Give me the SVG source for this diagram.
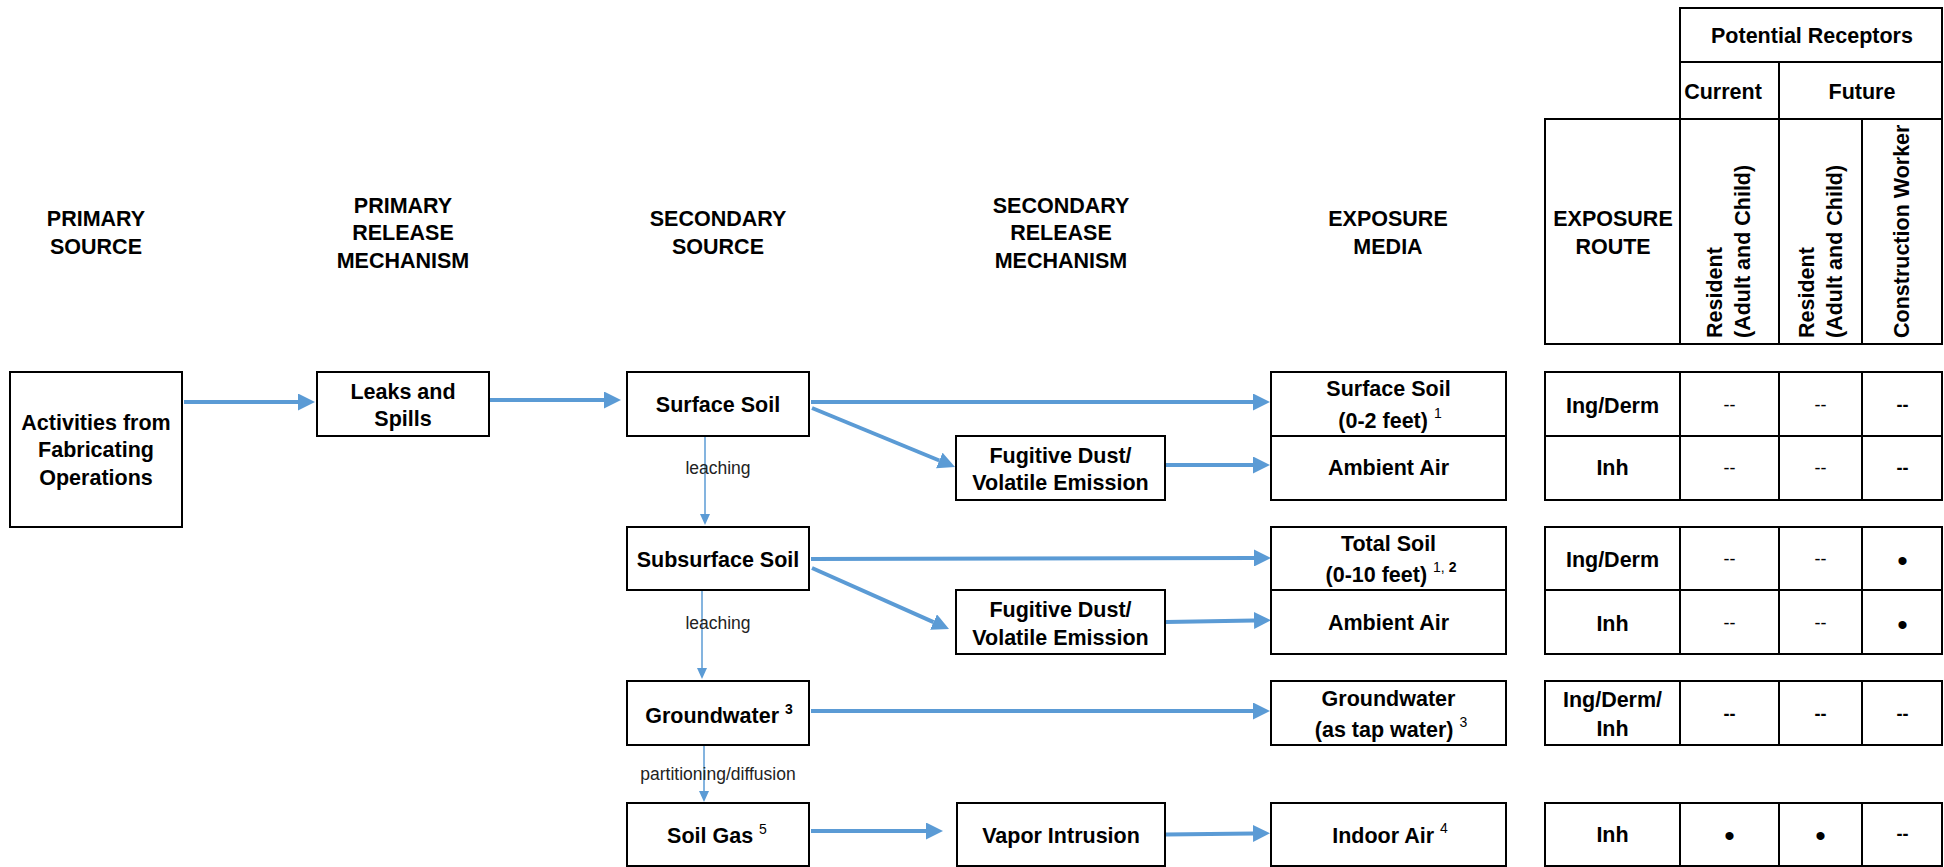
<svg xmlns="http://www.w3.org/2000/svg" width="1944" height="867" viewBox="0 0 1944 867">
<style>
.box{fill:#fff;stroke:#000;stroke-width:2}
.t{font-family:"Liberation Sans",Arial,sans-serif;font-weight:bold;font-size:21.5px;text-anchor:middle;fill:#000}
.s{font-family:"Liberation Sans",Arial,sans-serif;font-weight:normal;font-size:17.5px;text-anchor:middle;fill:#222}
.sup{font-size:14px;font-weight:normal}
.supb{font-size:14px;font-weight:bold}
.d{font-family:"Liberation Sans",Arial,sans-serif;font-weight:normal;font-size:18px;text-anchor:middle;fill:#000}
.db{font-weight:bold}
.b{font-family:"Liberation Sans",Arial,sans-serif;font-size:30px;text-anchor:middle;fill:#000}
.arr{stroke:#5B9BD5;stroke-width:4;fill:none;marker-end:url(#ah)}
.thin{stroke:#5B9BD5;stroke-width:1.5;fill:none;marker-end:url(#ahs)}
</style>
<defs>
<marker id="ah" markerUnits="userSpaceOnUse" viewBox="0 0 17 17" markerWidth="17" markerHeight="17" refX="0" refY="8.5" orient="auto"><path d="M0,0 L17,8.5 L0,17 z" fill="#5B9BD5"/></marker>
<marker id="ahs" markerUnits="userSpaceOnUse" viewBox="0 0 11 10" markerWidth="11" markerHeight="10" refX="0" refY="5" orient="auto"><path d="M0,0 L11,5 L0,10 z" fill="#5B9BD5"/></marker>
</defs>
<rect width="1944" height="867" fill="#fff"/>

<g id="headers">
<text class="t" x="96" y="226">PRIMARY</text><text class="t" x="96" y="254">SOURCE</text>
<text class="t" x="403" y="213">PRIMARY</text><text class="t" x="403" y="240">RELEASE</text><text class="t" x="403" y="268">MECHANISM</text>
<text class="t" x="718" y="226">SECONDARY</text><text class="t" x="718" y="254">SOURCE</text>
<text class="t" x="1061" y="213">SECONDARY</text><text class="t" x="1061" y="240">RELEASE</text><text class="t" x="1061" y="268">MECHANISM</text>
<text class="t" x="1388" y="226">EXPOSURE</text><text class="t" x="1388" y="254">MEDIA</text>
</g>

<g id="receptor-header">
<rect class="box" x="1680" y="8" width="262" height="54"/>
<text class="t" x="1812" y="43">Potential Receptors</text>
<rect class="box" x="1680" y="62" width="99" height="57"/>
<text class="t" x="1723" y="99">Current</text>
<rect class="box" x="1779" y="62" width="163" height="57"/>
<text class="t" x="1862" y="99">Future</text>
<rect class="box" x="1545" y="119" width="135" height="225"/>
<text class="t" x="1613" y="226">EXPOSURE</text><text class="t" x="1613" y="254">ROUTE</text>
<rect class="box" x="1680" y="119" width="99" height="225"/>
<rect class="box" x="1779" y="119" width="83" height="225"/>
<rect class="box" x="1862" y="119" width="80" height="225"/>
<text class="t" style="text-anchor:start" transform="translate(1722,338) rotate(-90)"><tspan x="0" y="0">Resident</tspan><tspan x="0" y="28">(Adult and Child)</tspan></text>
<text class="t" style="text-anchor:start" transform="translate(1814,338) rotate(-90)"><tspan x="0" y="0">Resident</tspan><tspan x="0" y="28">(Adult and Child)</tspan></text>
<text class="t" style="text-anchor:start" transform="translate(1909,338) rotate(-90)">Construction Worker</text>
</g>

<g id="connectors">
<path class="arr" d="M184,402 L298,402"/>
<path class="arr" d="M489,400 L604,400"/>
<path class="arr" d="M811,402 L1253,402"/>
<path class="arr" d="M812,408 L939.3,460.5"/>
<path class="arr" d="M1166,465 L1253,465"/>
<path class="arr" d="M811,559 L1254,558"/>
<path class="arr" d="M812,568 L933.5,622.1"/>
<path class="arr" d="M1166,622 L1254,620.5"/>
<path class="arr" d="M811,711 L1253,711"/>
<path class="arr" d="M811,831 L926,831"/>
<path class="arr" d="M1166,834.5 L1253,833.5"/>
<path class="thin" d="M705,437 L705,514"/>
<path class="thin" d="M702,591 L702,668"/>
<path class="thin" d="M704,746 L704,791"/>
<text class="s" x="718" y="474">leaching</text>
<text class="s" x="718" y="629">leaching</text>
<text class="s" x="718" y="780">partitioning/diffusion</text>
</g>

<g id="activities">
<rect class="box" x="10" y="372" width="172" height="155"/>
<text class="t" x="96" y="430">Activities from</text><text class="t" x="96" y="457">Fabricating</text><text class="t" x="96" y="485">Operations</text>
</g>
<g id="leaks">
<rect class="box" x="317" y="372" width="172" height="64"/>
<text class="t" x="403" y="399">Leaks and</text><text class="t" x="403" y="426">Spills</text>
</g>
<g id="surface-soil">
<rect class="box" x="627" y="372" width="182" height="64"/>
<text class="t" x="718" y="412">Surface Soil</text>
</g>
<g id="subsurface-soil">
<rect class="box" x="627" y="527" width="182" height="63"/>
<text class="t" x="718" y="567">Subsurface Soil</text>
</g>
<g id="groundwater">
<rect class="box" x="627" y="681" width="182" height="64"/>
<text class="t" x="719" y="723">Groundwater <tspan class="supb" dy="-9">3</tspan></text>
</g>
<g id="soil-gas">
<rect class="box" x="627" y="803" width="182" height="63"/>
<text class="t" x="717" y="843">Soil Gas <tspan class="sup" dy="-9">5</tspan></text>
</g>
<g id="fugitive-1">
<rect class="box" x="956" y="436" width="209" height="64"/>
<text class="t" x="1060.5" y="463">Fugitive Dust/</text><text class="t" x="1060.5" y="490">Volatile Emission</text>
</g>
<g id="fugitive-2">
<rect class="box" x="956" y="590" width="209" height="64"/>
<text class="t" x="1060.5" y="617">Fugitive Dust/</text><text class="t" x="1060.5" y="645">Volatile Emission</text>
</g>
<g id="vapor-intrusion">
<rect class="box" x="957" y="803" width="208" height="63"/>
<text class="t" x="1061" y="843">Vapor Intrusion</text>
</g>

<g id="media-surface-soil">
<rect class="box" x="1271" y="372" width="235" height="64"/>
<text class="t" x="1388.5" y="396">Surface Soil</text>
<text class="t" x="1390" y="428">(0-2 feet) <tspan class="sup" dy="-10">1</tspan></text>
</g>
<g id="media-ambient-air-1">
<rect class="box" x="1271" y="436" width="235" height="64"/>
<text class="t" x="1388.5" y="475">Ambient Air</text>
</g>
<g id="media-total-soil">
<rect class="box" x="1271" y="527" width="235" height="63"/>
<text class="t" x="1388.5" y="551">Total Soil</text>
<text class="t" x="1391" y="582">(0-10 feet) <tspan class="sup" dy="-10">1, </tspan><tspan class="supb">2</tspan></text>
</g>
<g id="media-ambient-air-2">
<rect class="box" x="1271" y="590" width="235" height="64"/>
<text class="t" x="1388.5" y="630">Ambient Air</text>
</g>
<g id="media-groundwater">
<rect class="box" x="1271" y="681" width="235" height="64"/>
<text class="t" x="1388.5" y="706">Groundwater</text>
<text class="t" x="1391" y="737">(as tap water) <tspan class="sup" dy="-10">3</tspan></text>
</g>
<g id="media-indoor-air">
<rect class="box" x="1271" y="803" width="235" height="63"/>
<text class="t" x="1390" y="843">Indoor Air <tspan class="sup" dy="-10">4</tspan></text>
</g>

<g id="row-1">
<rect class="box" x="1545" y="372" width="135" height="64"/><rect class="box" x="1680" y="372" width="99" height="64"/><rect class="box" x="1779" y="372" width="83" height="64"/><rect class="box" x="1862" y="372" width="80" height="64"/>
<text class="t" x="1612.5" y="413">Ing/Derm</text>
<text class="d" x="1729.5" y="411">--</text><text class="d" x="1820.5" y="411">--</text><text class="d db" x="1902.5" y="411">--</text>
</g>
<g id="row-2">
<rect class="box" x="1545" y="436" width="135" height="64"/><rect class="box" x="1680" y="436" width="99" height="64"/><rect class="box" x="1779" y="436" width="83" height="64"/><rect class="box" x="1862" y="436" width="80" height="64"/>
<text class="t" x="1612.5" y="475">Inh</text>
<text class="d" x="1729.5" y="474">--</text><text class="d" x="1820.5" y="474">--</text><text class="d db" x="1902.5" y="474">--</text>
</g>
<g id="row-3">
<rect class="box" x="1545" y="527" width="135" height="63"/><rect class="box" x="1680" y="527" width="99" height="63"/><rect class="box" x="1779" y="527" width="83" height="63"/><rect class="box" x="1862" y="527" width="80" height="63"/>
<text class="t" x="1612.5" y="567">Ing/Derm</text>
<text class="d" x="1729.5" y="565">--</text><text class="d" x="1820.5" y="565">--</text><text class="b" x="1902.5" y="571">•</text>
</g>
<g id="row-4">
<rect class="box" x="1545" y="590" width="135" height="64"/><rect class="box" x="1680" y="590" width="99" height="64"/><rect class="box" x="1779" y="590" width="83" height="64"/><rect class="box" x="1862" y="590" width="80" height="64"/>
<text class="t" x="1612.5" y="631">Inh</text>
<text class="d" x="1729.5" y="629">--</text><text class="d" x="1820.5" y="629">--</text><text class="b" x="1902.5" y="635">•</text>
</g>
<g id="row-5">
<rect class="box" x="1545" y="681" width="135" height="64"/><rect class="box" x="1680" y="681" width="99" height="64"/><rect class="box" x="1779" y="681" width="83" height="64"/><rect class="box" x="1862" y="681" width="80" height="64"/>
<text class="t" x="1612.5" y="707">Ing/Derm/</text><text class="t" x="1612.5" y="736">Inh</text>
<text class="d db" x="1729.5" y="720">--</text><text class="d db" x="1820.5" y="720">--</text><text class="d db" x="1902.5" y="720">--</text>
</g>
<g id="row-6">
<rect class="box" x="1545" y="803" width="135" height="63"/><rect class="box" x="1680" y="803" width="99" height="63"/><rect class="box" x="1779" y="803" width="83" height="63"/><rect class="box" x="1862" y="803" width="80" height="63"/>
<text class="t" x="1612.5" y="842">Inh</text>
<text class="b" x="1729.5" y="846">•</text><text class="b" x="1820.5" y="846">•</text><text class="d db" x="1902.5" y="840">--</text>
</g>
</svg>
